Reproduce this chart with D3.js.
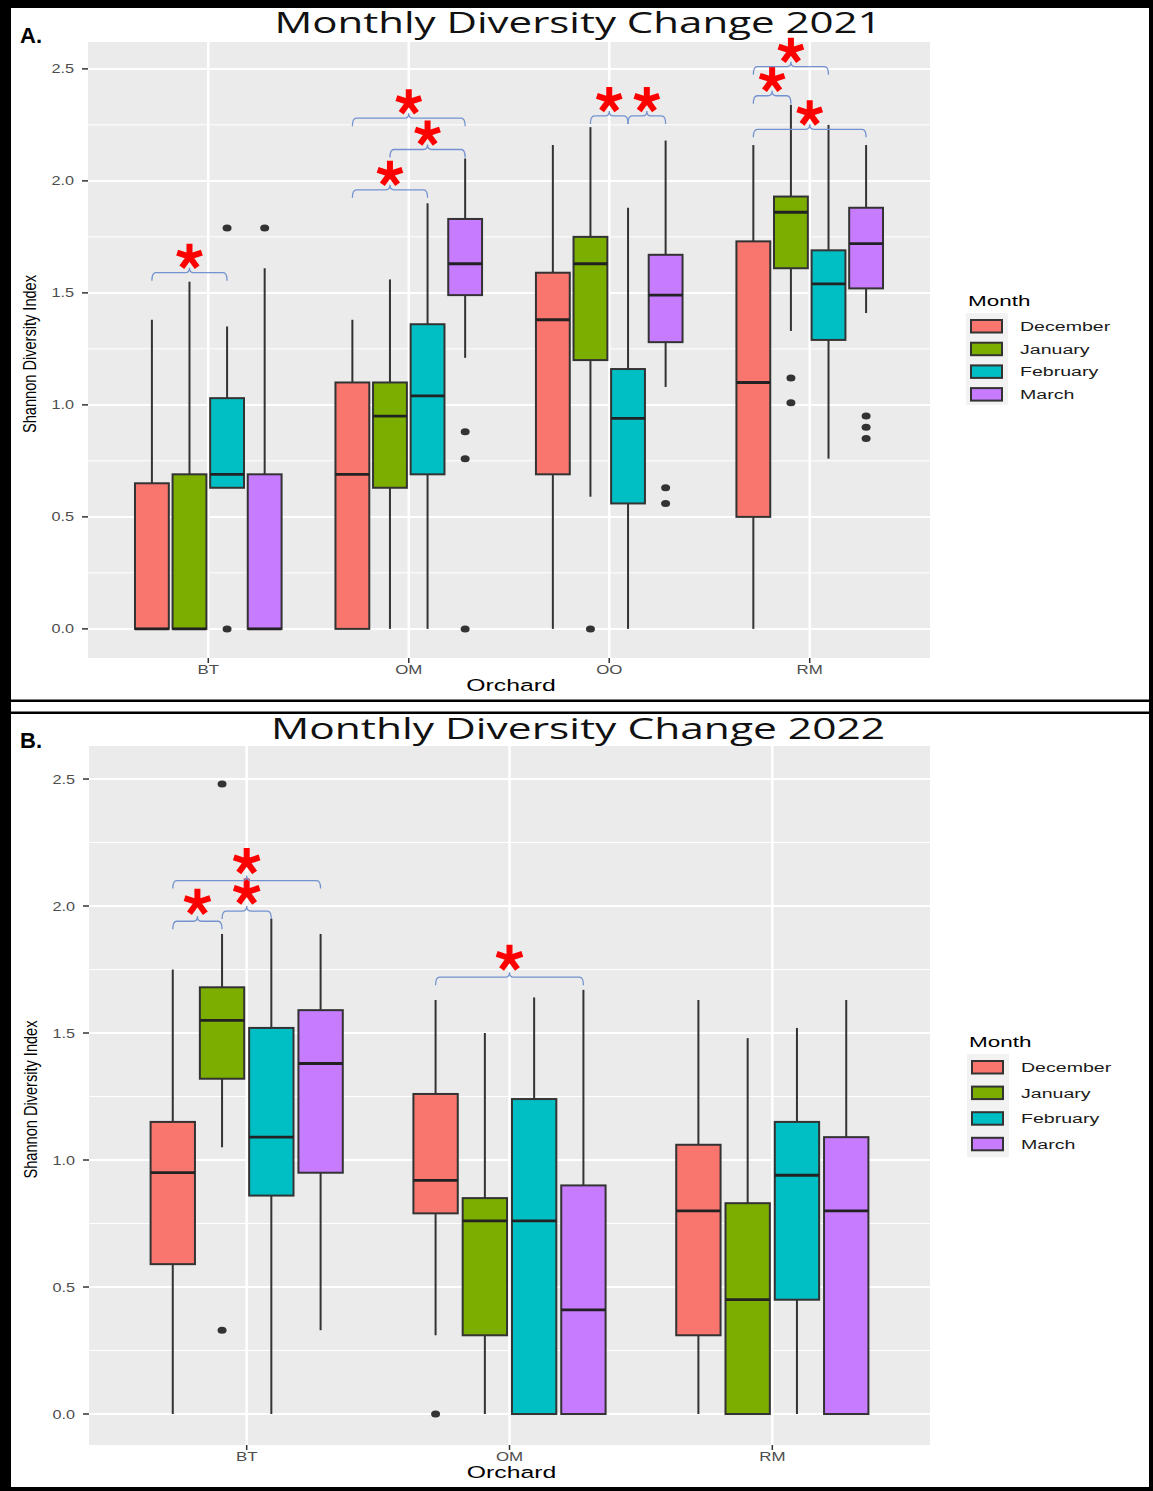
<!DOCTYPE html>
<html>
<head>
<meta charset="utf-8">
<script src="https://cdn.jsdelivr.net/npm/d3@7"></script>
<style>
  html, body { margin: 0; padding: 0; background: #fff; }
  svg { display: block; }
</style>
</head>
<body>
<script>
// ---- data -------------------------------------------------------------
const MONTHS = ["December", "January", "February", "March"];
const MONTH_COLORS = ["#F8766D", "#7CAE00", "#00BFC4", "#C77CFF"];
const Y_TICKS = [0, 0.5, 1, 1.5, 2, 2.5];
const Y_TICK_LABELS = ["0.0", "0.5", "1.0", "1.5", "2.0", "2.5"];

// 2021: one row per orchard, one entry per month
const orchards2021 = ["BT", "OM", "OO", "RM"];
const low2021  = [[0, 0, 0.63, 0], [0, 0, 0, 1.21], [0, 0.59, 0, 1.08], [0, 1.33, 0.76, 1.41]];
const q1_2021  = [[0, 0, 0.63, 0], [0, 0.63, 0.69, 1.49], [0.69, 1.20, 0.56, 1.28], [0.50, 1.61, 1.29, 1.52]];
const med2021  = [[0, 0, 0.69, 0], [0.69, 0.95, 1.04, 1.63], [1.38, 1.63, 0.94, 1.49], [1.10, 1.86, 1.54, 1.72]];
const q3_2021  = [[0.65, 0.69, 1.03, 0.69], [1.10, 1.10, 1.36, 1.83], [1.59, 1.75, 1.16, 1.67], [1.73, 1.93, 1.69, 1.88]];
const high2021 = [[1.38, 1.55, 1.35, 1.61], [1.38, 1.56, 1.90, 2.10], [2.16, 2.24, 1.88, 2.18], [2.16, 2.34, 2.25, 2.16]];
const out2021  = [
  [[], [], [0, 1.79], [1.79]],
  [[], [], [], [0.88, 0.76, 0]],
  [[], [0], [], [0.63, 0.56]],
  [[], [1.12, 1.01], [], [0.95, 0.90, 0.85]]
];
// significance brackets: orchard, first month index, second month index, height
const sig2021 = [
  ["BT", 0, 2, 1.59],
  ["OM", 0, 2, 1.96],
  ["OM", 1, 3, 2.14],
  ["OM", 0, 3, 2.28],
  ["OO", 1, 2, 2.29],
  ["OO", 2, 3, 2.29],
  ["RM", 0, 1, 2.38],
  ["RM", 0, 2, 2.51],
  ["RM", 0, 3, 2.23]
];

// 2022
const orchards2022 = ["BT", "OM", "RM"];
const low2022  = [[0, 1.05, 0, 0.33], [0.31, 0, 0, 0], [0, 0, 0, 0]];
const q1_2022  = [[0.59, 1.32, 0.86, 0.95], [0.79, 0.31, 0, 0], [0.31, 0, 0.45, 0]];
const med2022  = [[0.95, 1.55, 1.09, 1.38], [0.92, 0.76, 0.76, 0.41], [0.80, 0.45, 0.94, 0.80]];
const q3_2022  = [[1.15, 1.68, 1.52, 1.59], [1.26, 0.85, 1.24, 0.90], [1.06, 0.83, 1.15, 1.09]];
const high2022 = [[1.75, 1.89, 1.95, 1.89], [1.63, 1.50, 1.64, 1.67], [1.63, 1.48, 1.52, 1.63]];
const out2022  = [
  [[], [2.48, 0.33], [], []],
  [[0], [], [], []],
  [[], [], [], []]
];
const sig2022 = [
  ["BT", 0, 1, 1.94],
  ["BT", 1, 2, 1.98],
  ["BT", 0, 3, 2.10],
  ["OM", 0, 3, 1.72]
];

// ---- drawing ----------------------------------------------------------
const W = 1153, H = 1491;
const svg = d3.select("body").append("svg").attr("width", W).attr("height", H);
svg.append("rect").attr("width", W).attr("height", H).attr("fill", "#fff");

function stretchedText(g, x, y, str, opts) {
  const t = g.append("text")
    .attr("transform", `translate(${x},${y}) scale(${opts.sx || 1},1)`)
    .attr("font-family", opts.family || "'Liberation Sans', Arial, sans-serif")
    .attr("font-size", opts.size)
    .attr("fill", opts.fill || "#000")
    .attr("text-anchor", opts.anchor || "start")
    .text(str);
  if (opts.weight) t.attr("font-weight", opts.weight);
  return t;
}

function asterisk(g, cx, cy, r, sw) {
  const angles = [-90, -18, 54, 126, 198];
  let p = "";
  angles.forEach(a => {
    const rad = a * Math.PI / 180;
    p += `M${cx},${cy}L${cx + r * Math.cos(rad)},${cy + r * Math.sin(rad)}`;
  });
  g.append("path").attr("d", p).attr("stroke", "#ff0000")
    .attr("stroke-width", sw).attr("stroke-linecap", "butt").attr("fill", "none");
}

function bracePath(x1, x2, y) {
  const xm = (x1 + x2) / 2;
  const d = 8, n = 5, c = 4;
  return `M${x1},${y + d} Q${x1},${y} ${x1 + c},${y} L${xm - c},${y} Q${xm},${y} ${xm},${y - n}` +
         ` Q${xm},${y} ${xm + c},${y} L${x2 - c},${y} Q${x2},${y} ${x2},${y + d}`;
}

function drawPanel(cfg) {
  const g = svg.append("g");
  const x = d3.scalePoint().domain(cfg.orchards).range([cfg.left, cfg.right]).padding(0.6);
  const y = d3.scaleLinear().domain(cfg.yDomain).range([cfg.bottom, cfg.top]);
  const step = x.step();
  const slot = step * 0.75 / MONTHS.length;
  const bw = slot * 0.9;

  // panel background and grid
  g.append("rect").attr("x", cfg.left).attr("y", cfg.top)
    .attr("width", cfg.right - cfg.left).attr("height", cfg.bottom - cfg.top)
    .attr("fill", "#ebebeb");
  const minor = d3.range(0.25, 2.6, 0.5);
  g.selectAll(".minor").data(minor).enter().append("line")
    .attr("x1", cfg.left).attr("x2", cfg.right)
    .attr("y1", d => y(d)).attr("y2", d => y(d))
    .attr("stroke", "#fff").attr("stroke-width", 1);
  g.selectAll(".major").data(Y_TICKS).enter().append("line")
    .attr("x1", cfg.left).attr("x2", cfg.right)
    .attr("y1", d => y(d)).attr("y2", d => y(d))
    .attr("stroke", "#fff").attr("stroke-width", 2);
  g.selectAll(".vmajor").data(cfg.orchards).enter().append("line")
    .attr("x1", d => x(d)).attr("x2", d => x(d))
    .attr("y1", cfg.top).attr("y2", cfg.bottom)
    .attr("stroke", "#fff").attr("stroke-width", 2.5);

  // y axis
  Y_TICKS.forEach((v, i) => {
    g.append("line").attr("x1", cfg.left - 6).attr("x2", cfg.left)
      .attr("y1", y(v)).attr("y2", y(v)).attr("stroke", "#333").attr("stroke-width", 1.5);
    stretchedText(g, cfg.left - 14, y(v) + 4.5, Y_TICK_LABELS[i],
      { size: 12.5, fill: "#4d4d4d", anchor: "end", sx: 1.3 });
  });
  // x axis
  cfg.orchards.forEach(o => {
    g.append("line").attr("x1", x(o)).attr("x2", x(o))
      .attr("y1", cfg.bottom).attr("y2", cfg.bottom + 5).attr("stroke", "#333").attr("stroke-width", 1.5);
    stretchedText(g, x(o), cfg.bottom + 16, o, { size: 12.5, fill: "#4d4d4d", anchor: "middle", sx: 1.35 });
  });
  stretchedText(g, (cfg.left + cfg.right) / 2 + 2, cfg.bottom + 33, "Orchard",
    { size: 16.5, anchor: "middle", sx: 1.5 });
  g.append("text")
    .attr("transform", `translate(${cfg.left - 52},${(cfg.top + cfg.bottom) / 2 + 4}) rotate(-90)`)
    .attr("font-family", "'Liberation Sans Narrow', 'Liberation Sans', sans-serif")
    .attr("font-size", 19).attr("text-anchor", "middle").attr("fill", "#000")
    .attr("textLength", 158).attr("lengthAdjust", "spacingAndGlyphs")
    .text("Shannon Diversity Index");

  // boxes
  cfg.orchards.forEach((o, oi) => {
    MONTHS.forEach((m, mi) => {
      const cx = x(o) + (mi - (MONTHS.length - 1) / 2) * slot;
      const lo = cfg.low[oi][mi], a = cfg.q1[oi][mi], md = cfg.med[oi][mi],
            b = cfg.q3[oi][mi], hi = cfg.high[oi][mi];
      g.append("line").attr("x1", cx).attr("x2", cx).attr("y1", y(b)).attr("y2", y(hi))
        .attr("stroke", "#333").attr("stroke-width", 2);
      g.append("line").attr("x1", cx).attr("x2", cx).attr("y1", y(a)).attr("y2", y(lo))
        .attr("stroke", "#333").attr("stroke-width", 2);
      g.append("rect").attr("x", cx - bw / 2).attr("y", y(b))
        .attr("width", bw).attr("height", Math.max(0, y(a) - y(b)))
        .attr("fill", MONTH_COLORS[mi]).attr("stroke", "#333").attr("stroke-width", 2);
      g.append("line").attr("x1", cx - bw / 2).attr("x2", cx + bw / 2)
        .attr("y1", y(md)).attr("y2", y(md)).attr("stroke", "#222").attr("stroke-width", 2.8);
      cfg.out[oi][mi].forEach(v => {
        g.append("ellipse").attr("cx", cx).attr("cy", y(v)).attr("rx", 4.5).attr("ry", 3.5)
          .attr("fill", "#333");
      });
    });
  });

  // significance brackets
  cfg.sig.forEach(([o, m1, m2, h]) => {
    const x1 = x(o) + (m1 - 1.5) * slot, x2 = x(o) + (m2 - 1.5) * slot;
    g.append("path").attr("d", bracePath(x1, x2, y(h)))
      .attr("fill", "none").attr("stroke", "#7392d0").attr("stroke-width", 1.3);
    asterisk(g, (x1 + x2) / 2, y(h) - cfg.starOffset, cfg.starR, 6);
  });

  // legend
  const lg = g.append("g");
  stretchedText(lg, cfg.legendX - 3, cfg.legendTop, "Month", { size: 15, sx: 1.5 });
  lg.append("rect").attr("x", cfg.legendX - 5).attr("y", cfg.legendTop + 7)
    .attr("width", 42).attr("height", cfg.legendGap * 4 + 1).attr("fill", "#f2f2f2");
  MONTHS.forEach((m, i) => {
    const ky = cfg.legendTop + 14 + i * cfg.legendGap;
    lg.append("rect").attr("x", cfg.legendX).attr("y", ky).attr("width", 31).attr("height", 12.5)
      .attr("fill", MONTH_COLORS[i]).attr("stroke", "#333").attr("stroke-width", 2);
    stretchedText(lg, cfg.legendX + 49, ky + 11, m, { size: 13.5, sx: 1.45, fill: "#1a1a1a" });
  });

  // titles
  g.append("text").attr("x", 578).attr("y", cfg.titleY)
    .attr("font-family", "'Open Sans', Lato, sans-serif").attr("font-size", 29)
    .attr("text-anchor", "middle").attr("fill", "#111")
    .attr("textLength", cfg.titleLen).attr("lengthAdjust", "spacingAndGlyphs")
    .text(cfg.title);
  g.append("text").attr("x", 20).attr("y", cfg.tagY)
    .attr("font-family", "'Liberation Sans', Arial, sans-serif").attr("font-size", 22)
    .attr("font-weight", "bold").attr("fill", "#000").text(cfg.tag);
}

drawPanel({
  orchards: orchards2021, low: low2021, q1: q1_2021, med: med2021, q3: q3_2021,
  high: high2021, out: out2021, sig: sig2021,
  left: 88, right: 930, top: 42, bottom: 658, yDomain: [-0.13, 2.62],
  starOffset: 16, starR: 13,
  legendX: 971, legendTop: 306, legendGap: 22.7,
  title: "Monthly Diversity Change 2021", titleY: 33, titleLen: 607,
  tag: "A.", tagY: 43
});

drawPanel({
  orchards: orchards2022, low: low2022, q1: q1_2022, med: med2022, q3: q3_2022,
  high: high2022, out: out2022, sig: sig2022,
  left: 89, right: 930, top: 746, bottom: 1445, yDomain: [-0.122, 2.63],
  starOffset: 19, starR: 13.5,
  legendX: 972, legendTop: 1047, legendGap: 25.6,
  title: "Monthly Diversity Change 2022", titleY: 739, titleLen: 614,
  tag: "B.", tagY: 748
});

// frame around the two panels
svg.append("rect").attr("x", 0).attr("y", 0).attr("width", 11).attr("height", H).attr("fill", "#000");
svg.append("rect").attr("x", 0).attr("y", 0).attr("width", W).attr("height", 8).attr("fill", "#000");
svg.append("rect").attr("x", 1149).attr("y", 0).attr("width", 4).attr("height", H).attr("fill", "#000");
svg.append("rect").attr("x", 0).attr("y", 1487).attr("width", W).attr("height", 4).attr("fill", "#000");
svg.append("rect").attr("x", 0).attr("y", 699.5).attr("width", W).attr("height", 2.5).attr("fill", "#000");
svg.append("rect").attr("x", 0).attr("y", 711.5).attr("width", W).attr("height", 2.5).attr("fill", "#000");
</script>
</body>
</html>
